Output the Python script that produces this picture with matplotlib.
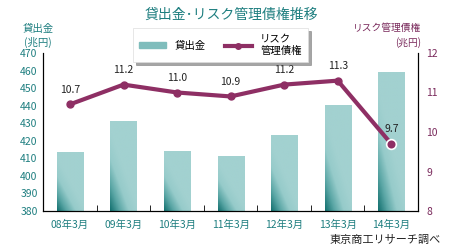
import numpy as np
import matplotlib
matplotlib.use("Agg")
import matplotlib.pyplot as plt
from matplotlib.colors import LinearSegmentedColormap
from matplotlib.patches import Rectangle
from matplotlib.lines import Line2D

plt.rcParams['font.family'] = ['Noto Sans CJK JP', 'DejaVu Sans']

# data
categories = ['08年3月', '09年3月', '10年3月', '11年3月', '12年3月', '13年3月', '14年3月']
loans = [413.7, 431.4, 414.2, 411.3, 423.4, 440.4, 459.4]
risk_loans = [10.7, 11.2, 11.0, 10.9, 11.2, 11.3, 9.7]
left_ticks = list(range(380, 471, 10))
right_ticks = [8, 9, 10, 11, 12]

teal_text = '#1f7f80'
purple = '#8e2f64'
purple_text = '#7a2a5c'

fig = plt.figure(figsize=(4.5, 2.5), dpi=100)
ax = fig.add_axes([0.096, 0.156, 0.833, 0.632])
ax2 = ax.twinx()

x = np.arange(len(categories))
bar_w = 0.49
cmap = LinearSegmentedColormap.from_list('bar', ['#13706f', '#5aa6a5', '#96cbca', '#a2d1d0'])
bars = ax.bar(x, loans, bar_w, color='none', edgecolor='none', zorder=2)
# diagonal gradient, dark at bottom-left
gy, gx = np.mgrid[0:1:100j, 0:1:40j]
grad = np.clip((gy * 1.6 + gx * 1.3) / 1.4, 0, 1)
for b in bars:
    x0, y0, w, h = b.get_x(), 380, b.get_width(), b.get_height() - 380
    im = ax.imshow(grad, cmap=cmap, origin='lower', aspect='auto',
                   extent=[x0, x0 + w, y0, y0 + h], zorder=2)
    clip = Rectangle((x0, y0), w, h, transform=ax.transData)
    im.set_clip_path(clip)

ax.set_xlim(-0.5, len(categories) - 0.5)
ax.set_ylim(380, 470)
ax.set_yticks(left_ticks)
ax.tick_params(axis='y', length=0, labelsize=7.5, labelcolor=teal_text, pad=4)
ax.set_xticks(x)
ax.set_xticklabels(categories)
ax.tick_params(axis='x', length=0, labelsize=7.5, labelcolor=teal_text, pad=6)
ax.set_xticks(x[:-1] + 0.5, minor=True)
ax.tick_params(axis='x', which='minor', direction='in', length=4, color='black')

ax2.plot(x, risk_loans, color=purple, lw=3, zorder=3)
ax2.plot(x[:-1], risk_loans[:-1], 'o', color=purple, ms=5, zorder=4)
ax2.plot(x[-1:], risk_loans[-1:], 'o', color=purple, mec='white', mew=1.2, ms=7, zorder=4)
for xi, v in zip(x, risk_loans):
    ax2.annotate(f'{v:.1f}', (xi, v), xytext=(0, 7), textcoords='offset points',
                 ha='center', va='bottom', fontsize=7.5, color='#222222')
ax2.set_ylim(8, 12)
ax2.set_yticks(right_ticks)
ax2.tick_params(axis='y', length=0, labelsize=7.5, labelcolor=purple_text, pad=6)

for a in (ax, ax2):
    a.spines['top'].set_visible(False)
    for s in ('left', 'right', 'bottom'):
        a.spines[s].set_color('black')
        a.spines[s].set_linewidth(0.8)

fig.text(0.515, 0.94, '貸出金･リスク管理債権推移', ha='center', va='center',
         fontsize=10, color=teal_text)
fig.text(0.085, 0.81, '貸出金\n(兆円)', ha='center', va='bottom', fontsize=7.5,
         color=teal_text, linespacing=1.3)
fig.text(0.935, 0.81, 'リスク管理債権\n(兆円)', ha='right', va='bottom', fontsize=7,
         color=purple_text, linespacing=1.4, multialignment='right')
fig.text(0.98, 0.02, '東京商工リサーチ調べ', ha='right', va='bottom', fontsize=8,
         color='#222222')

handles = [Rectangle((0, 0), 1, 1, color='#7fbdbc'),
           Line2D([], [], color=purple, lw=3, marker='o', ms=4)]
leg = fig.legend(handles, ['貸出金', 'リスク\n管理債権'], ncol=2, loc='center',
                 bbox_to_anchor=(0.49, 0.82), fontsize=7.5, frameon=True, shadow=True,
                 fancybox=False, handlelength=2.6, handleheight=0.5, columnspacing=1.8,
                 borderpad=0.6)
leg.get_frame().set_edgecolor('#dddddd')
leg.get_frame().set_linewidth(0.5)

fig.savefig('out.png', dpi=100)
